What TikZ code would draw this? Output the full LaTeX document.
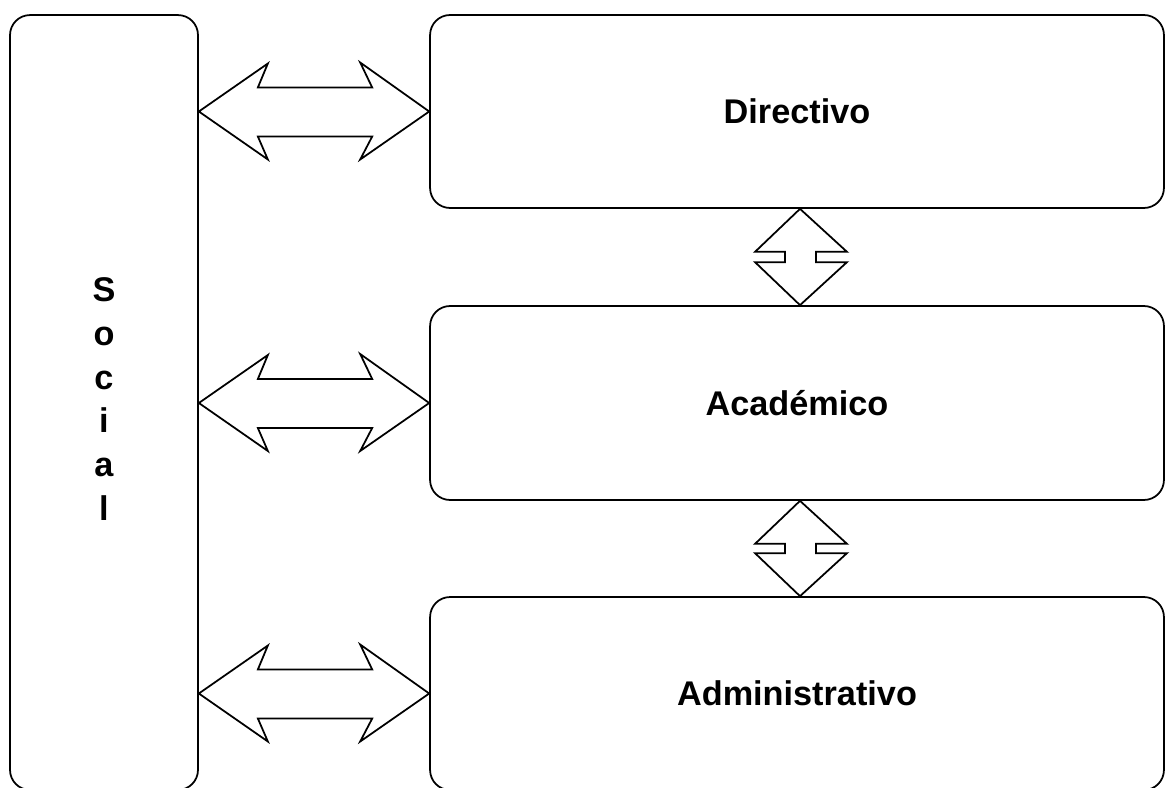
\documentclass[tikz,border=0pt]{standalone}
\usepackage{fontspec}
\setmainfont{Liberation Sans}
\usetikzlibrary{calc}

\tikzset{
  caja/.style ={draw, line width=1pt, rounded corners=0.4cm, font=\fontsize{19.5}{23}\selectfont\bfseries},
  flecha/.style ={draw, line width=1pt, fill=white, line join=miter}
}

\begin{document}
\begin{tikzpicture}[x=0.02cm, y=-0.02cm]
\useasboundingbox (0,0) rectangle (1165,787);
\node[caja, minimum width=3.76cm, minimum height=15.5cm] (social) at (104,402.5) {};
\node[font=\fontsize{19.5}{25}\selectfont\bfseries, align=center] (socialtxt) at (104,399)
  {S\\o\\c\\i\\a\\l};
\node[caja, minimum width=14.68cm, minimum height=3.86cm] (directivo) at (797,111.5) {Directivo};
\node[caja, minimum width=14.68cm, minimum height=3.88cm] (academico) at (797,403) {Académico};
\node[caja, minimum width=14.68cm, minimum height=3.86cm] (administrativo) at (797,693.5) {Administrativo};
% flechas horizontales
\foreach \d in {directivo, academico, administrativo}{
  \coordinate (L) at (social.east |- \d.west);
  \coordinate (R) at (\d.west);
  \draw[flecha] (L) -- ($(L)+(69,-48)$) -- ($(L)+(59,-24)$) -- ($(R)+(-57,-24)$)
    -- ($(R)+(-69,-49)$) -- (R) -- ($(R)+(-69,48)$) -- ($(R)+(-57,25)$)
    -- ($(L)+(59,25)$) -- ($(L)+(69,48)$) -- cycle;
}
% flechas verticales
\foreach \a/\b in {directivo/academico, academico/administrativo}{
  \coordinate (T) at ($(\a.south)+(3,0)$);
  \coordinate (B) at ($(\b.north)+(3,0)$);
  \draw[flecha] (T) -- ($(T)+(47,43)$) -- ($(T)+(16,43)$) -- ($(B)+(16,-43)$)
    -- ($(B)+(47,-43)$) -- (B) -- ($(B)+(-45,-43)$) -- ($(B)+(-15,-43)$)
    -- ($(T)+(-15,43)$) -- ($(T)+(-45,43)$) -- cycle;
}
\end{tikzpicture}
\end{document}
